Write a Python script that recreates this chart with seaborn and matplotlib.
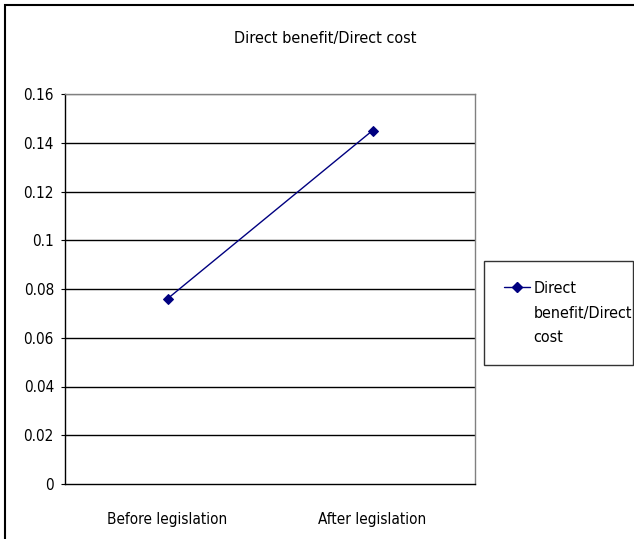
import matplotlib
matplotlib.use("Agg")
import matplotlib.pyplot as plt
from matplotlib.patches import Rectangle
from matplotlib.lines import Line2D
import seaborn as sns
import pandas as pd

# data
periods = ["Before legislation", "After legislation"]
ratio = [0.076, 0.145]
series_name = "Direct benefit/Direct cost"
y_ticks = [0, 0.02, 0.04, 0.06, 0.08, 0.1, 0.12, 0.14, 0.16]
y_tick_labels = ["0", "0.02", "0.04", "0.06", "0.08", "0.1", "0.12", "0.14", "0.16"]

df = pd.DataFrame({"period": periods, "ratio": ratio, "x": range(len(periods))})

sns.set_style("white")
plt.rcParams["font.family"] = ["DejaVu Sans"]
plt.rcParams["font.stretch"] = "condensed"
plt.rcParams["text.color"] = "black"
plt.rcParams["xtick.color"] = "black"
plt.rcParams["ytick.color"] = "black"

W, H = 634, 539
fig = plt.figure(figsize=(W / 100, H / 100), dpi=100)
ax = fig.add_axes([65 / W, 1 - 484 / H, 410 / W, 390 / H])

# gridlines
for yv in y_ticks[1:]:
    ax.axhline(yv, color="#000000" if yv < 0.16 else "#808080", lw=1, zorder=1)

navy = "#000080"
sns.lineplot(data=df, x="x", y="ratio", ax=ax, color=navy, lw=1,
             marker="D", markersize=5.5, markeredgecolor=navy, zorder=3, legend=False)

fs = 11
ax.set_xlim(-0.5, 1.5)
ax.set_ylim(0, 0.16)
ax.set_xticks(range(len(periods)))
ax.set_xticklabels(periods, fontsize=fs)
ax.set_xticks([-0.5, 0.5, 1.5], minor=True)
ax.tick_params(axis="x", which="major", length=0, pad=20)
ax.tick_params(axis="x", which="minor", direction="in", length=5, width=0.8, color="black")
ax.set_yticks(y_ticks)
ax.set_yticklabels(y_tick_labels, fontsize=fs)
ax.tick_params(axis="y", direction="out", length=3, width=0.8, color="black", left=True, pad=5)
ax.set_xlabel("")
ax.set_ylabel("")

for s in ["left", "bottom"]:
    ax.spines[s].set_color("black")
    ax.spines[s].set_linewidth(1)
for s in ["top", "right"]:
    ax.spines[s].set_color("#808080")
    ax.spines[s].set_linewidth(1)

fig.text(325 / W, 1 - 38 / H, series_name, ha="center", va="center", fontsize=11.6)

# legend, wrapped over three lines with the marker on the first one
handles = [Line2D([], [], color=navy, lw=1, marker="D", markersize=5.5),
           Line2D([], [], color="none"),
           Line2D([], [], color="none")]
labels = ["Direct", "benefit/Direct", "cost"]
leg = fig.legend(handles, labels, loc="upper left",
                 bbox_to_anchor=(484 / W, 1 - 364 / H, 149 / W, 103 / H),
                 mode="expand", fontsize=11.5, frameon=True, fancybox=False,
                 handlelength=1.6, handletextpad=0.25, labelspacing=0.6,
                 borderaxespad=0, borderpad=1.25)
leg.get_frame().set_edgecolor("black")
leg.get_frame().set_linewidth(1)

# outer chart border
fig.patches.append(Rectangle((5 / W, -0.1), 1.0, 1 - 5 / H + 0.1, transform=fig.transFigure,
                             fill=False, edgecolor="black", lw=1.5))

fig.savefig("out.png", dpi=100)
